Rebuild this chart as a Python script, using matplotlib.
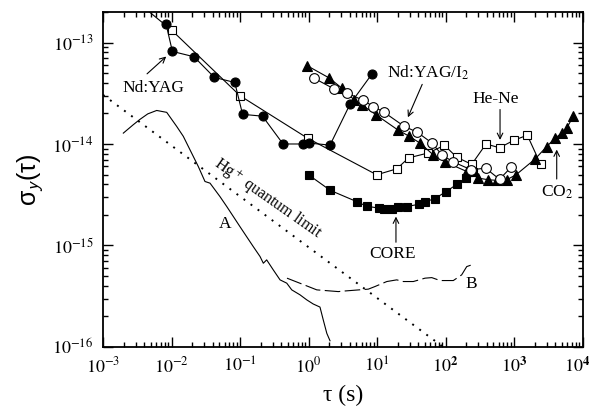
import matplotlib
matplotlib.use("Agg")
import matplotlib.pyplot as plt
import matplotlib.transforms as mtransforms

plt.rcParams["font.family"] = ["Liberation Serif", "DejaVu Serif"]
plt.rcParams["mathtext.fontset"] = "stix"

# Nd:YAG (filled circles)
yag_tau = [0.00832, 0.0103, 0.0213, 0.0422, 0.0838, 0.109, 0.213, 0.425, 0.823, 1.03, 2.06, 4.04, 8.53]
yag_sig = [1.52e-13, 8.17e-14, 7.24e-14, 4.53e-14, 4.04e-14, 1.96e-14, 1.88e-14, 1.0e-14, 1.0e-14,
           1.02e-14, 9.75e-15, 2.47e-14, 4.95e-14]

# He-Ne (open squares)
hene_tau = [0.003, 0.0101, 0.1, 0.97, 9.9, 19.4, 29.0, 55.6, 96.6, 146, 241, 390, 614, 1000, 1563, 2454]
hene_sig = [2.58e-13, 1.32e-13, 2.99e-14, 1.14e-14, 4.97e-15, 5.69e-15, 7.3e-15, 8.15e-15, 9.7e-15,
            7.4e-15, 6.3e-15, 1.0e-14, 9.18e-15, 1.09e-14, 1.22e-14, 6.28e-15]

# Nd:YAG/I2 (open circles)
iod_tau = [1.22, 2.38, 3.68, 6.3, 8.83, 12.6, 25, 38.4, 62.5, 89, 129, 236, 384, 614, 904]
iod_sig = [4.43e-14, 3.48e-14, 3.17e-14, 2.69e-14, 2.34e-14, 2.06e-14, 1.49e-14, 1.31e-14, 1.03e-14,
           7.8e-15, 6.67e-15, 5.57e-15, 5.78e-15, 4.49e-15, 5.89e-15]

# CO2 (filled triangles)
co2_tau = [0.96, 2.01, 3.05, 4.62, 5.98, 9.67, 20, 29.6, 42.5, 66.4, 98, 204, 301, 422, 565, 782,
           1069, 2026, 3000, 3970, 4970, 5880, 7340]
co2_sig = [5.9e-14, 4.47e-14, 3.56e-14, 2.73e-14, 2.44e-14, 1.94e-14, 1.38e-14, 1.19e-14, 1.02e-14,
           7.8e-15, 6.67e-15, 5.36e-15, 4.61e-15, 4.44e-15, 4.38e-15, 4.44e-15, 4.97e-15, 7.1e-15,
           9.44e-15, 1.14e-14, 1.28e-14, 1.44e-14, 1.87e-14]

# CORE (filled squares)
core_tau = [1.0, 2.08, 5.02, 7.03, 10.7, 12.7, 16.4, 20.5, 27.2, 41.5, 50.2, 70.3, 102, 149, 199, 249]
core_sig = [4.97e-15, 3.49e-15, 2.71e-15, 2.44e-15, 2.33e-15, 2.30e-15, 2.28e-15, 2.37e-15, 2.42e-15,
            2.55e-15, 2.69e-15, 2.9e-15, 3.40e-15, 4.03e-15, 4.61e-15, 5.32e-15]

# curve A (solid)
a_tau = [0.00198, 0.00277, 0.00347, 0.0045, 0.00608, 0.00851, 0.0119, 0.01486, 0.0186, 0.0246, 0.0308,
         0.0365, 0.0510, 0.0640, 0.0798, 0.1, 0.125, 0.156, 0.196, 0.219, 0.245, 0.306, 0.384,
         0.481, 0.569, 0.752, 0.942, 1.17, 1.47, 1.64, 1.85, 2.06]
a_sig = [1.28e-14, 1.55e-14, 1.75e-14, 1.98e-14, 2.14e-14, 2.05e-14, 1.49e-14, 1.19e-14, 8.77e-15, 6.0e-15,
         4.27e-15, 4.11e-15, 3.03e-15, 2.42e-15, 1.93e-15, 1.53e-15, 1.22e-15, 9.75e-16, 7.78e-16,
         6.68e-16, 7.21e-16, 5.74e-16, 4.58e-16, 4.25e-16, 3.65e-16, 3.26e-16, 2.91e-16, 2.65e-16,
         2.47e-16, 1.85e-16, 1.36e-16, 1.15e-16]

# curve B (long dash)
b_tau = [0.485, 1.05, 1.32, 2.72, 3.41, 7.46, 9.36, 13.9, 19.4, 24.2, 33.9, 50.2, 63.0, 83.2,
         130, 172, 204, 241]
b_sig = [4.76e-16, 3.88e-16, 3.65e-16, 3.51e-16, 3.56e-16, 3.71e-16, 3.94e-16, 4.41e-16, 4.58e-16,
         4.41e-16, 4.41e-16, 4.76e-16, 4.82e-16, 4.51e-16, 4.51e-16, 5.13e-16, 6.19e-16, 6.44e-16]

# Hg+ quantum limit (straight line, end points)
hg_tau = [1e-3, 1e2]
hg_sig = [3.05e-14, 9.6e-17]

fig = plt.figure(figsize=(5.92, 4.13), dpi=100)
ax = fig.add_axes([0.174, 0.160, 0.810, 0.811])

ax.plot(hg_tau, hg_sig, color="black", lw=1.4, linestyle=(0, (1, 3.5)))
ax.plot(a_tau, a_sig, color="black", lw=0.8)
ax.plot(b_tau, b_sig, color="black", lw=0.8, dashes=(14, 4))

mk = dict(color="black", lw=0.8, markeredgecolor="black", markeredgewidth=0.8)
ax.plot(hene_tau, hene_sig, marker="s", markersize=6, markerfacecolor="white", **mk)
ax.plot(yag_tau, yag_sig, marker="o", markersize=6.5, markerfacecolor="black", **mk)
ax.plot(core_tau, core_sig, marker="s", markersize=5.5, markerfacecolor="black", **mk)
ax.plot(co2_tau, co2_sig, marker="^", markersize=7, markerfacecolor="black", **mk)
ax.plot(iod_tau, iod_sig, marker="o", markersize=7, markerfacecolor="white", **mk)

ax.set_xscale("log")
ax.set_yscale("log")
ax.set_xlim(1e-3, 1e4)
ax.set_ylim(1e-16, 2e-13)

xt = [1e-3, 1e-2, 1e-1, 1e0, 1e1, 1e2, 1e3, 1e4]
xl = [r"$10^{-3}$", r"$10^{-2}$", r"$10^{-1}$", r"$10^{0}$", r"$10^{1}$",
      r"$10^{\mathbf{2}}$", r"$10^{\mathbf{3}}$", r"$10^{\mathbf{4}}$"]
ax.set_xticks(xt)
ax.set_xticklabels(xl)
yt = [1e-16, 1e-15, 1e-14, 1e-13]
ax.set_yticks(yt)
ax.set_yticklabels([r"$10^{-16}$", r"$10^{-15}$", r"$10^{-14}$", r"$10^{-13}$"])

ax.tick_params(which="both", direction="in", top=True, right=True, labelsize=13, width=1)
ax.tick_params(which="major", length=7, pad=7)
ax.tick_params(which="minor", length=3.5)
for s in ax.spines.values():
    s.set_linewidth(1.3)

# keep the last x label inside the figure
last = ax.get_xticklabels()[-1]
last.set_transform(last.get_transform() + mtransforms.ScaledTranslation(-4 / 72, 0, fig.dpi_scale_trans))

ax.set_xlabel("τ (s)", fontsize=17, labelpad=6)
ax.set_ylabel(r"σ$_{\mathsf{y}}$(τ)", fontsize=18, labelpad=4, family=["Liberation Sans", "DejaVu Sans"])

# labels and arrows
arr = dict(arrowstyle="->", lw=0.8, color="black")
fs = 12.5
ax.annotate("", xy=(0.00897, 7.59e-14), xytext=(0.0041, 4.71e-14), arrowprops=arr)
ax.text(0.00537, 3.58e-14, "Nd:YAG", fontsize=fs, ha="center", va="center")

ax.annotate("", xy=(27.2, 1.73e-14), xytext=(47.4, 4.1e-14), arrowprops=arr)
ax.text(56.1, 5.03e-14, r"Nd:YAG/I$_2$", fontsize=fs, ha="center", va="center")

ax.annotate("", xy=(625, 1.03e-14), xytext=(625, 2.33e-14), arrowprops=arr)
ax.text(541, 2.79e-14, "He-Ne", fontsize=fs, ha="center", va="center")

ax.annotate("", xy=(4200, 9.38e-15), xytext=(4200, 4.24e-15), arrowprops=arr)
ax.text(4285, 3.33e-15, r"CO$_2$", fontsize=fs, ha="center", va="center")

ax.annotate("", xy=(18.9, 2.05e-15), xytext=(18.9, 1.01e-15), arrowprops=arr)
ax.text(16.7, 8.2e-16, "CORE", fontsize=fs, ha="center", va="center")

ax.text(0.0604, 1.63e-15, "A", fontsize=fs, ha="center", va="center")
ax.text(236, 4.18e-16, "B", fontsize=fs, ha="center", va="center")
ax.text(0.256, 2.88e-15, r"Hg$^+$ quantum limit", fontsize=11.5, ha="center", va="center",
        rotation=-35)

fig.savefig("out.png", dpi=100)
